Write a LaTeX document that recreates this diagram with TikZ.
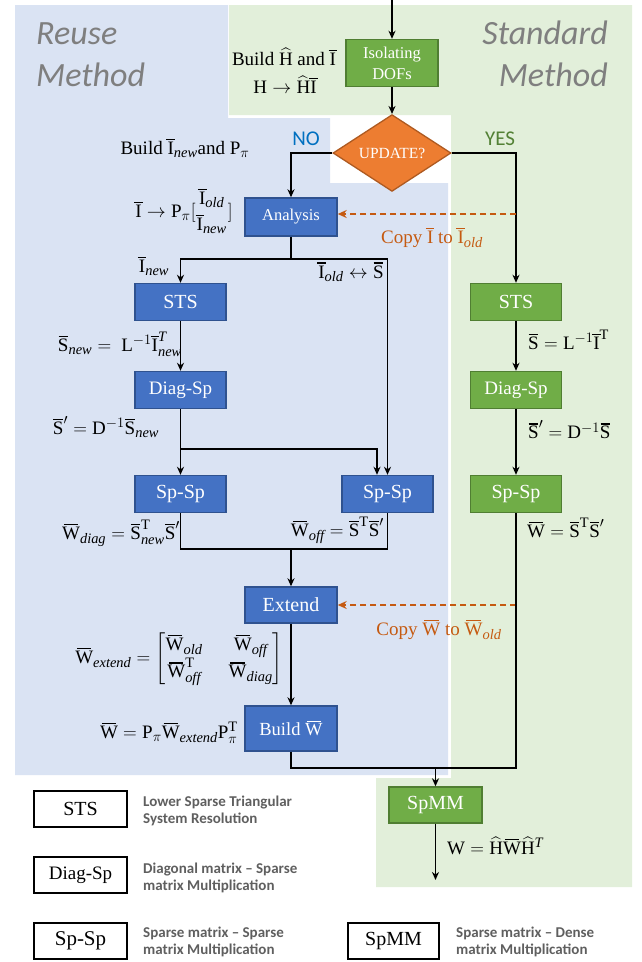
\RequirePackage{fix-cm}
\documentclass[tikz,border=0pt]{standalone}
\usepackage{amsmath}
\usepackage{fontspec}
\setmainfont{Liberation Serif}
\newfontfamily\carl{Carlito}
\usetikzlibrary{arrows.meta,shapes.geometric,calc}
\renewcommand{\defaultscriptratio}{.76}
\definecolor{bgblue}{HTML}{DAE3F3}
\definecolor{bggreen}{HTML}{E2EFDA}
\definecolor{boxblue}{HTML}{4472C4}
\definecolor{boxblueline}{HTML}{2F528F}
\definecolor{boxgreen}{HTML}{70AD47}
\definecolor{boxgreenline}{HTML}{507E32}
\definecolor{updor}{HTML}{ED7D31}
\definecolor{updorline}{HTML}{AE5A21}
\definecolor{copyor}{HTML}{C55A11}
\definecolor{noblue}{HTML}{0070C0}
\definecolor{yesgreen}{HTML}{538135}
\definecolor{methgray}{HTML}{7F7F7F}
\definecolor{leggray}{HTML}{5F5F5F}
\newcommand{\ovl}[2]{\text{\upshape\setbox0=\hbox{#2}\rlap{\hbox to\wd0{\hss\rule[\dimexpr\ht0+0.1em\relax]{#1}{0.065em}\hss}}\box0}}
\newcommand{\bI}{\ovl{\dimexpr\wd0+0.12em\relax}{I}}
\newcommand{\bS}{\ovl{0.9\wd0}{S}}
\newcommand{\bW}{\ovl{0.8\wd0}{W}}
\newcommand{\hH}{\widehat{\mathrm{H}}}
\newcommand{\tx}[1]{\mathit{#1}}
\begin{document}
\begin{tikzpicture}[x=1pt,y=-1pt,
  bluebox/.style={draw=boxblueline, fill=boxblue, line width=1.4pt, text=white, font=\fontsize{20}{22}\selectfont, minimum width=91pt, minimum height=37pt, inner sep=0pt},
  greenbox/.style={bluebox, draw=boxgreenline, fill=boxgreen},
  legbox/.style={draw=black, line width=1.4pt, fill=white, font=\fontsize{20}{22}\selectfont, minimum width=93pt, minimum height=36pt, inner sep=0pt},
  arr/.style={draw=black, line width=1.5pt, -{Stealth[length=8pt,width=7pt,inset=2.5pt]}},
  plain/.style={draw=black, line width=1.5pt},
  darr/.style={draw=copyor, line width=1.8pt, dash pattern=on 6pt off 4pt, -{Stealth[length=9pt,width=8pt,inset=3pt]}},
  lbl/.style={font=\fontsize{19}{23}\selectfont, inner sep=0pt},
  legtxt/.style={font=\carl\bfseries\fontsize{15}{17}\selectfont, text=leggray, align=left, anchor=west, inner sep=0pt},
  method/.style={font=\carl\itshape\fontsize{34}{40}\selectfont, text=methgray, inner sep=0pt}
]
\useasboundingbox (0,0) rectangle (641,962);
% backgrounds
\fill[bgblue] (15,5) -- (228,5) -- (228,118) -- (330,118) -- (330,183) -- (448,183) -- (448,775) -- (15,775) -- cycle;
\fill[bggreen] (229,5) -- (632,5) -- (632,887) -- (376,887) -- (376,778) -- (451,778) -- (451,115) -- (229,115) -- cycle;

% titles
\node[method, anchor=base west] (rm1) at (36,44) {Reuse};
\node[method, anchor=base west] (rm2) at (36,86) {Method};
\node[method, anchor=base east] (sm1) at (608,44) {Standard};
\node[method, anchor=base east] (sm2) at (608,86) {Method};

% nodes
\node[greenbox, font=\fontsize{16.5}{21}\selectfont, align=center, minimum width=92pt, minimum height=47pt] (iso) at (392,63) {Isolating\\DOFs};
\node[diamond, fill=updor, draw=updorline, line width=1.3pt, minimum width=118pt, minimum height=46pt, inner sep=0pt, text=white, font=\fontsize{15.5}{18}\selectfont] (upd) at (392,153) {UPDATE?};
\node[bluebox, font=\fontsize{16.5}{19}\selectfont, minimum width=92pt, minimum height=38pt] (ana) at (291,217) {Analysis};
\node[bluebox] (stsL) at (180.5,302) {STS};
\node[bluebox, font=\fontsize{19}{22}\selectfont] (diagL) at (180.5,390) {Diag-Sp};
\node[bluebox] (spL) at (180.5,494) {Sp-Sp};
\node[bluebox] (spR) at (387.5,494) {Sp-Sp};
\node[bluebox, minimum width=92pt, minimum height=36pt] (ext) at (291,605) {Extend};
\node[bluebox, font=\fontsize{18.5}{22}\selectfont, minimum width=92pt, minimum height=45pt] (bw) at (291,728.5) {Build $\bW$};
\node[greenbox] (stsG) at (516,302) {STS};
\node[greenbox, font=\fontsize{19}{22}\selectfont] (diagG) at (516,390) {Diag-Sp};
\node[greenbox] (spG) at (516,494) {Sp-Sp};
\node[greenbox, minimum width=93pt, minimum height=36pt] (spmm) at (435.5,805) {SpMM};

% decision labels
\node[font=\carl\fontsize{21}{24}\selectfont, text=noblue, inner sep=0pt] (no) at (306,139) {NO};
\node[font=\carl\fontsize{21}{24}\selectfont, text=yesgreen, inner sep=0pt] (yes) at (500,139) {YES};

% connectors
\coordinate (top) at (392,0);
\draw[arr] (top) -- (iso.north);
\draw[arr] (iso.south) -- (upd.north);
\draw[arr] (upd.west) -| (ana.north);
\draw[arr] (upd.east) -| (stsG.north);
\coordinate (c1) at (516,214);
\draw[darr] (c1) -- (c1 -| ana.east);
\coordinate (j1) at (291,259);
\draw[plain] (ana.south) -- (j1);
\draw[arr] (j1) -| (stsL.north);
\draw[arr] (j1) -| (spR.north);
\draw[arr] (stsL.south) -- (diagL.north);
\coordinate (j2) at (180.5,449);
\coordinate (k2) at (377,449);
\draw[arr] (diagL.south) -- (spL.north);
\draw[arr] (j2) -- (k2) -- (k2 |- spR.north);
\coordinate (j3) at (291,549);
\draw[plain] (spL.south) |- (j3);
\draw[plain] (spR.south) |- (j3);
\draw[arr] (j3) -- (ext.north);
\coordinate (c2) at (516,605);
\draw[darr] (c2) -- (ext.east);
\draw[arr] (ext.south) -- (bw.north);
\coordinate (m1) at (435.5,768);
\draw[plain] (bw.south) |- (m1);
\draw[plain] (spG.south) |- (m1);
\draw[arr] (m1) -- (spmm.north);
\coordinate (endp) at (435.5,880);
\draw[arr] (spmm.south) -- (endp);
\draw[arr] (stsG.south) -- (diagG.north);
\draw[arr] (diagG.south) -- (spG.north);

% labels
\node[lbl] (l1) at (284,57) {Build $\hH$ and $\bI$};
\node[lbl] (l2) at (285,85) {$\mathrm{H}\rightarrow\hH\bI$};
\node[lbl] (l3) at (185,148) {Build $\bI_{\tx{new}}$and $\mathrm{P}_\pi$};
\node[lbl] (l4) at (184,211) {$\bI\rightarrow\mathrm{P}_\pi[\genfrac{}{}{0pt}{0}{\bI_{\tx{old}}}{\bI_{\tx{new}}}]$};
\node[lbl, text=copyor] (l5) at (432,238) {Copy $\bI$ to $\bI_{\tx{old}}$};
\node[lbl] (l6) at (154,266) {$\bI_{\tx{new}}$};
\node[lbl] (l7) at (351,272) {$\bI_{\tx{old}}\leftrightarrow\bS$};
\node[lbl, anchor=east] (l8) at (182,344) {$\bS_{\tx{new}} =\ \mathrm{L}^{-1}\bI^{\tx{T}}_{\tx{new}}$};
\node[lbl] (l9) at (106,427) {$\bS' = \mathrm{D}^{-1}\bS_{\tx{new}}$};
\node[lbl, anchor=west] (l10) at (528,340) {$\bS = \mathrm{L}^{-1}\bI^{\mathrm{T}}$};
\node[lbl, anchor=west] (l11) at (528,430) {$\bS' = \mathrm{D}^{-1}\bS$};
\node[lbl, anchor=east] (l12) at (180,533) {$\bW_{\tx{diag}} = \bS^{\mathrm{T}}_{\tx{new}}\bS'$};
\node[lbl, anchor=east] (l13) at (384,530) {$\bW_{\tx{off}} = \bS^{\mathrm{T}}\bS'$};
\node[lbl, anchor=west] (l14) at (527,528) {$\bW = \bS^{\mathrm{T}}\bS'$};
\node[lbl, text=copyor] (l15) at (439,630) {Copy $\bW$ to $\bW_{\tx{old}}$};
\node[lbl, anchor=east] (l16) at (283,659) {\setlength{\arraycolsep}{13pt}\renewcommand{\arraystretch}{1.15}$\bW_{\tx{extend}} = \begin{bmatrix}\bW_{\tx{old}} & \bW_{\tx{off}}\\ \bW^{\mathrm{T}}_{\tx{off}} & \bW_{\tx{diag}}\end{bmatrix}$};
\node[lbl, anchor=east] (l17) at (238,733) {$\bW = \mathrm{P}_\pi\bW_{\tx{extend}}\mathrm{P}^{\mathrm{T}}_\pi$};
\node[lbl, anchor=west] (l18) at (447,846) {$\mathrm{W} = \hH\bW\hH^{\tx{T}}$};

% legend
\node[legbox] (lg1) at (80.5,809) {STS};
\node[legbox, font=\fontsize{19}{22}\selectfont] (lg2) at (80.5,875) {Diag-Sp};
\node[legbox, font=\fontsize{21}{24}\selectfont] (lg3) at (80.5,941) {Sp-Sp};
\node[legbox, minimum width=91pt] (lg4) at (393.5,941) {SpMM};
\node[legtxt] (lt1) at (143,811) {Lower Sparse Triangular\\System Resolution};
\node[legtxt] (lt2) at (143,878) {Diagonal matrix – Sparse\\matrix Multiplication};
\node[legtxt] (lt3) at (143,942) {Sparse matrix – Sparse\\matrix Multiplication};
\node[legtxt] (lt4) at (456,942) {Sparse matrix – Dense\\matrix Multiplication};
\end{tikzpicture}
\end{document}
